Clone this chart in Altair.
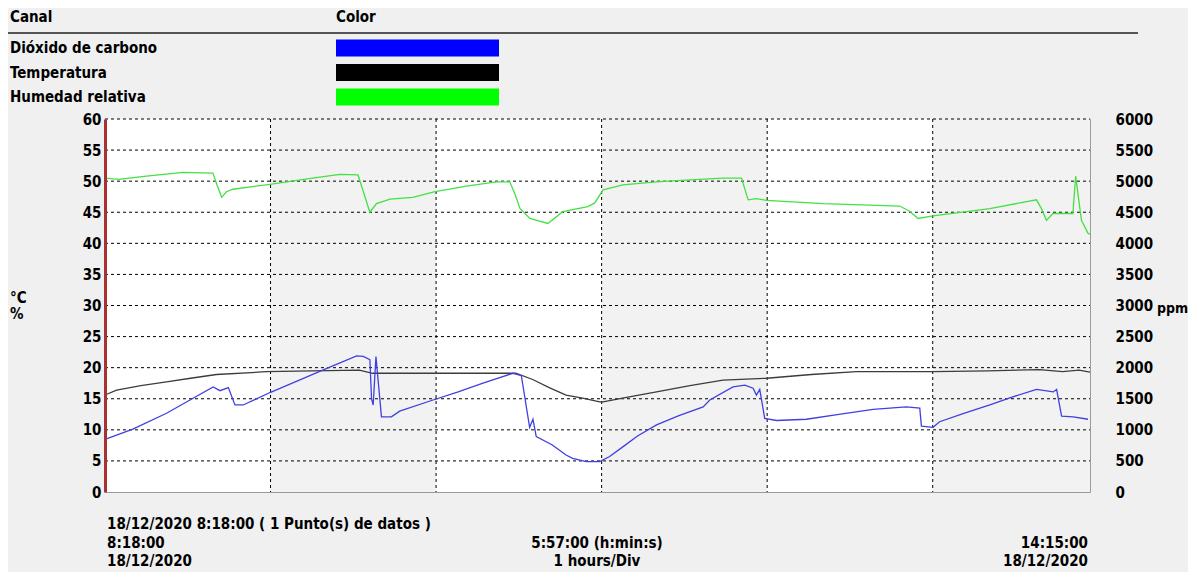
import altair as alt
import pandas as pd

# ---- data (time = minutes after 18/12/2020 8:18:00) ----
hum_t = [0, 5, 15, 28.3, 39.1, 40.5, 42.3, 44, 46.4, 59.8, 72, 85.1, 91.7, 93.5, 96.0, 98.4,
         103.3, 111.6, 119.6, 131, 141.9, 146.7, 148.5, 150.4, 154.0, 160.5, 165.9, 175.0,
         177.5, 180.5, 187.7, 199.9, 212, 223.9, 230.7, 233.1, 236.1, 239.8, 260.3, 288.0,
         291.5, 294.7, 300.1, 320.7, 337.6, 339.5, 341.2, 343.6, 350.8, 351.8, 353.9, 356.3, 357]
hum_v = [50.5, 50.3, 50.8, 51.4, 51.3, 49.5, 47.4, 48.3, 48.7, 49.5, 50.3, 51.1, 51.0, 48.5,
         45.0, 46.4, 47.1, 47.4, 48.3, 49.2, 49.9, 49.9, 48.0, 45.6, 44.0, 43.2, 45.1, 45.9,
         46.5, 48.6, 49.4, 49.9, 50.2, 50.5, 50.5, 47.0, 47.2, 46.9, 46.4, 46.0, 45.2, 44.0,
         44.4, 45.6, 47.0, 45.5, 43.7, 44.8, 44.8, 50.8, 43.7, 41.6, 41.5]

temp_t = [0, 4.2, 13, 22.3, 31, 40.4, 58.4, 75, 92.2, 97.0, 118.6, 148.9, 155.0, 161, 167.1,
          173.1, 179.3, 180.5, 190, 199.9, 212, 224.0, 239.8, 256, 272.3, 300.1, 320,
          338.7, 347.0, 353, 357]
temp_v = [15.6, 16.4, 17.1, 17.7, 18.3, 18.9, 19.35, 19.5, 19.6, 19.1, 19.1, 19.1, 18.1,
          16.8, 15.6, 15.1, 14.5, 14.5, 15.3, 16.1, 17.1, 18.0, 18.3, 18.9, 19.35, 19.35,
          19.5, 19.7, 19.35, 19.6, 19.3]

co2_t = [0, 10.1, 22.3, 30.8, 39.2, 41.7, 44.7, 47.1, 50.1, 59.8, 70, 80.4, 91.2, 93.6,
         96.0, 96.6, 97.2, 98.2, 100.2, 103.8, 106.8, 118.9, 128, 137.0, 147.9, 150.9,
         153.9, 155.1, 156.3, 162, 167.1, 169.5, 174.4, 179.3, 182.9, 187.8, 193, 199.9,
         208, 216.8, 219.2, 227.6, 231.9, 234.9, 236.1, 237.3, 239.1, 243.4, 254.2, 266,
         278.4, 290.4, 295.3, 295.9, 300.1, 302.5, 311, 320.7, 329, 337.6, 343.7, 344.9,
         346.7, 350.9, 356.3]
co2_v = [848, 1010, 1266, 1480, 1690, 1630, 1680, 1400, 1400, 1600, 1790, 1990, 2190, 2180,
         2130, 1500, 1400, 2180, 1210, 1210, 1300, 1480, 1610, 1750, 1910, 1870, 1040, 1170,
         890, 760, 595, 540, 490, 490, 570, 730, 900, 1080, 1230, 1370, 1480, 1690, 1720,
         1670, 1560, 1650, 1185, 1150, 1170, 1250, 1330, 1370, 1350, 1060, 1040, 1130, 1260,
         1400, 1530, 1650, 1610, 1650, 1220, 1210, 1170]

channels = ["Dióxido de carbono", "Temperatura", "Humedad relativa"]
channel_colors = ["#0000ff", "#000000", "#00ff00"]
channel_rows = [0, 1, 2]

left_ticks = list(range(0, 61, 5))
right_ticks = list(range(0, 6001, 500))
hour_marks = [60, 120, 180, 240, 300]
band_start = [0, 60, 120, 180, 240, 300]
band_end = [60, 120, 180, 240, 300, 357]
band_fill = ["#ffffff", "#f2f2f2", "#ffffff", "#f2f2f2", "#ffffff", "#f2f2f2"]

# ---- layout constants ----
W, H = 985, 373
FONT = "DejaVu Sans Condensed, Liberation Sans Narrow, DejaVu Sans"
FS = 15

xs = alt.Scale(domain=[0, 357], nice=False, zero=False)
left_scale = alt.Scale(domain=[0, 60], nice=False, zero=True)
right_scale = alt.Scale(domain=[0, 6000], nice=False, zero=True)
row_scale = alt.Scale(domain=[0, 2], range=[-71, -22], nice=False, zero=False)

bands_df = pd.DataFrame({"s": band_start, "e": band_end, "c": band_fill})
hgrid_df = pd.DataFrame({"v": left_ticks})
vgrid_df = pd.DataFrame({"t": hour_marks})
hum_df = pd.DataFrame({"t": hum_t, "v": hum_v})
temp_df = pd.DataFrame({"t": temp_t, "v": temp_v})
co2_df = pd.DataFrame({"t": co2_t, "v": co2_v})
legend_df = pd.DataFrame({"name": channels, "col": channel_colors, "row": channel_rows})

bands = alt.Chart(bands_df).mark_rect().encode(
    x=alt.X("s:Q", scale=xs, axis=None), x2="e:Q",
    y=alt.value(0), y2=alt.value(H),
    color=alt.Color("c:N", scale=None),
)

hgrid = alt.Chart(hgrid_df).mark_rule(color="black", strokeDash=[3, 3], strokeWidth=1).encode(
    y=alt.Y("v:Q", scale=left_scale, axis=alt.Axis(
        orient="left", values=left_ticks, ticks=False, labelPadding=4, grid=False,
        domainColor="#a83232", domainWidth=3, title=None, zindex=2,
        labelFont=FONT, labelFontSize=FS, labelFontWeight="bold", labelColor="black")),
    x=alt.value(0), x2=alt.value(W),
    opacity=alt.condition("datum.v > 0", alt.value(1), alt.value(0)),
)

vgrid = alt.Chart(vgrid_df).mark_rule(color="black", strokeDash=[3, 3], strokeWidth=1).encode(
    x=alt.X("t:Q", scale=xs, axis=None), y=alt.value(0), y2=alt.value(H),
)

hum = alt.Chart(hum_df).mark_line(color="#44e044", strokeWidth=1.3).encode(
    x=alt.X("t:Q", scale=xs, axis=None), y=alt.Y("v:Q", scale=left_scale, axis=None))
temp = alt.Chart(temp_df).mark_line(color="#3c3c3c", strokeWidth=1.3).encode(
    x=alt.X("t:Q", scale=xs, axis=None), y=alt.Y("v:Q", scale=left_scale, axis=None))
co2 = alt.Chart(co2_df).mark_line(color="#4040e0", strokeWidth=1.3).encode(
    x=alt.X("t:Q", scale=xs, axis=None),
    y=alt.Y("v:Q", scale=right_scale, axis=alt.Axis(
        orient="right", values=right_ticks, ticks=False, domain=False, grid=False,
        labelPadding=25, labelAlign="left", title=None, format="d",
        labelFont=FONT, labelFontSize=FS, labelFontWeight="bold", labelColor="black")))

legend_text = alt.Chart(legend_df).mark_text(
    align="left", baseline="middle", font=FONT, fontSize=FS, fontWeight="bold", color="black"
).encode(x=alt.value(-95), y=alt.Y("row:Q", scale=row_scale, axis=None), text="name:N")

legend_swatch = alt.Chart(legend_df).mark_rule(strokeWidth=17, strokeCap="butt").encode(
    x=alt.value(231), x2=alt.value(394),
    y=alt.Y("row:Q", scale=row_scale, axis=None),
    color=alt.Color("col:N", scale=None))

header_line = alt.Chart(pd.DataFrame({"a": [0]})).mark_rule(color="#555555", strokeWidth=2).encode(
    x=alt.value(-97), x2=alt.value(1033), y=alt.value(-86))


def txt(s, x, y, align="left", font=FONT, size=FS):
    return alt.Chart(pd.DataFrame({"s": [s]})).mark_text(
        align=align, baseline="middle", font=font, fontSize=size, fontWeight="bold",
        color="black").encode(x=alt.value(x), y=alt.value(y), text="s:N")


texts = [
    txt("Canal", -95, -102),
    txt("Color", 231, -102),
    txt("°C", -95, 179),
    txt("%", -95, 195),
    txt("ppm", 1052, 190, size=14),
    txt("18/12/2020 8:18:00 ( 1 Punto(s) de datos )", 2, 405),
    txt("8:18:00", 2, 424),
    txt("18/12/2020", 2, 442),
    txt("5:57:00 (h:min:s)", 492, 424, align="center"),
    txt("1 hours/Div", 492, 442, align="center"),
    txt("14:15:00", 983, 424, align="right"),
    txt("18/12/2020", 983, 442, align="right"),
]

chart = alt.layer(
    bands, hgrid, vgrid, hum, temp, co2, legend_swatch, legend_text, header_line, *texts
).resolve_scale(y="independent").properties(
    width=W, height=H,
    padding={"left": 97, "top": 111, "right": 98, "bottom": 80},
    autosize=alt.AutoSizeParams(type="none"),
).configure(background="#f0f0f0").configure_view(stroke="#9a9a9a", strokeWidth=1)

chart.save("out.html", embed_options={"renderer": "svg", "actions": False})
